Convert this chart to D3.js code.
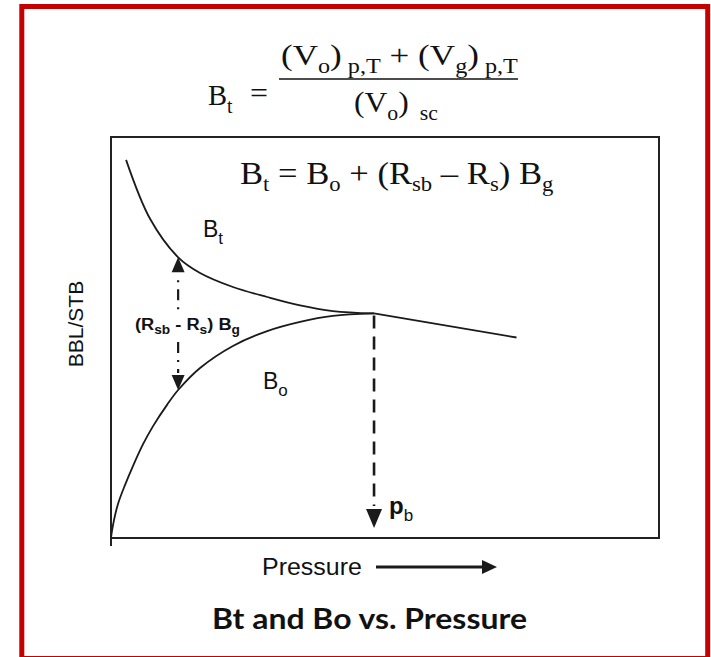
<!DOCTYPE html>
<html>
<head>
<meta charset="utf-8">
<script src="https://cdnjs.cloudflare.com/ajax/libs/d3/7.8.5/d3.min.js"></script>
<style>
  html, body { margin: 0; padding: 0; background: #fff; }
  svg { display: block; }
  tspan { white-space: pre; }
</style>
</head>
<body>
<svg id="chart" width="711" height="657"></svg>
<script>
// Oil formation volume factor (Bo) below the bubble point, BBL/STB
const pressureBo = [0, 7, 22, 51, 102, 161, 234, 307, 409, 490, 650, 890, 1140, 1380, 1620, 1920];
const bo = [1.000, 1.017, 1.045, 1.085, 1.132, 1.180, 1.234, 1.279, 1.332, 1.369, 1.424, 1.479, 1.516, 1.539, 1.554, 1.560];

// Total (two-phase) formation volume factor (Bt) below the bubble point
const pressureBt = [110, 285, 490, 650, 890, 1140, 1380, 1620, 1920];
const bt = [1.943, 1.796, 1.700, 1.661, 1.626, 1.601, 1.580, 1.566, 1.560];

// Above the bubble point Bt = Bo (single phase, liquid compression)
const pressureAbove = [1920, 2960];
const boAbove = [1.560, 1.500];

const bubblePoint = 1920;   // pb
const gapPressure = 490;    // where (Rsb - Rs) Bg is marked

const svg = d3.select("#chart");

const x = d3.scaleLinear().domain([0, 4000]).range([111, 659]);
const y = d3.scaleLinear().domain([1.0, 2.0]).range([538, 137]);

const ink = "#1a1a1a";
const serif = "'Liberation Serif', 'Times New Roman', serif";
const sans = "'Liberation Sans', Arial, sans-serif";

// stretch a text element horizontally so it spans [x0, x1]
function fitX(sel, x0, x1) {
  const bb = sel.node().getBBox();
  const s = (x1 - x0) / bb.width;
  sel.attr("transform", `translate(${x0},0) scale(${s},1) translate(${-bb.x},0)`);
}

// text made of normal runs and subscript runs
function richText(parent, xPos, yPos, parts, opts) {
  const t = parent.append("text")
    .attr("x", xPos).attr("y", yPos)
    .attr("font-family", opts.family).attr("font-size", opts.size)
    .attr("font-weight", opts.weight || "normal")
    .attr("fill", "#111");
  let shift = 0;
  parts.forEach(p => {
    const target = p.sub ? opts.subDy : 0;
    const ts = t.append("tspan")
      .attr("dy", target - shift)
      .attr("font-size", p.sub ? opts.subSize : opts.size)
      .text(p.t);
    if (p.sub && opts.subWeight) ts.attr("font-weight", opts.subWeight);
    shift = target;
  });
  return t;
}

// outer red frame
svg.append("rect")
  .attr("x", 21.8).attr("y", 6.5)
  .attr("width", 707.7 - 21.8).attr("height", 658.5 - 6.5)
  .attr("fill", "none").attr("stroke", "#c40000").attr("stroke-width", 5);

// ---- formula above the chart: Bt = [(Vo)p,T + (Vg)p,T] / (Vo)sc
const eq = svg.append("g");
const eqOpts = {family: serif, size: 29, subSize: 20, subDy: 8};
fitX(richText(eq, 0, 105, [{t: "B"}, {t: "t", sub: true}], eqOpts), 208, 233);
fitX(richText(eq, 0, 103, [{t: "="}], eqOpts), 250, 268);
fitX(richText(eq, 0, 65, [
  {t: "(V"}, {t: "o", sub: true}, {t: ")"}, {t: " p,T", sub: true},
  {t: " + (V"}, {t: "g", sub: true}, {t: ")"}, {t: " p,T", sub: true}
], eqOpts), 281, 518);
eq.append("line")
  .attr("x1", 279).attr("x2", 518).attr("y1", 79).attr("y2", 79)
  .attr("stroke", "#111").attr("stroke-width", 1.5);
fitX(richText(eq, 0, 112, [
  {t: "(V"}, {t: "o", sub: true}, {t: ")"}, {t: "  sc", sub: true}
], eqOpts), 354, 438);

// ---- plot frame
svg.append("rect")
  .attr("x", x(0)).attr("y", y(2.0))
  .attr("width", x(4000) - x(0)).attr("height", y(1.0) - y(2.0))
  .attr("fill", "none").attr("stroke", "#222").attr("stroke-width", 2);
svg.append("line")
  .attr("x1", x(0)).attr("x2", x(0)).attr("y1", y(1.0)).attr("y2", y(1.0) + 8)
  .attr("stroke", "#222").attr("stroke-width", 2);

// relationship inside the chart
fitX(richText(svg.append("g"), 0, 184, [
  {t: "B"}, {t: "t", sub: true}, {t: " = B"}, {t: "o", sub: true},
  {t: " + (R"}, {t: "sb", sub: true}, {t: " \u2013 R"}, {t: "s", sub: true},
  {t: ") B"}, {t: "g", sub: true}
], {family: serif, size: 32, subSize: 21, subDy: 7}), 240, 554);

// ---- curves
const smooth = d3.line()
  .x(d => x(d[0])).y(d => y(d[1]))
  .curve(d3.curveCatmullRom.alpha(0.5));
const straight = d3.line().x(d => x(d[0])).y(d => y(d[1]));

const boPts = pressureBo.map((p, i) => [p, bo[i]]);
const btPts = pressureBt.map((p, i) => [p, bt[i]]);
const abovePts = pressureAbove.map((p, i) => [p, boAbove[i]]);

[smooth(boPts), smooth(btPts), straight(abovePts)].forEach(d => {
  svg.append("path").attr("d", d)
    .attr("fill", "none").attr("stroke", ink).attr("stroke-width", 1.8)
    .attr("stroke-linejoin", "round");
});

// ---- (Rsb - Rs) Bg double arrow between the curves
const ax = x(gapPressure);
const yTop = y(bt[pressureBt.indexOf(gapPressure)]);
const yBot = y(bo[pressureBo.indexOf(gapPressure)]);
const head = 15, halfW = 6.5;
svg.append("path")
  .attr("d", `M${ax},${yTop} L${ax - halfW},${yTop + head} L${ax + halfW},${yTop + head} Z`)
  .attr("fill", ink);
svg.append("path")
  .attr("d", `M${ax},${yBot} L${ax - halfW},${yBot - head} L${ax + halfW},${yBot - head} Z`)
  .attr("fill", ink);
svg.append("line")
  .attr("x1", ax).attr("x2", ax).attr("y1", yTop + head + 8).attr("y2", 310)
  .attr("stroke", ink).attr("stroke-width", 2.2).attr("stroke-dasharray", "2,7,11,7");
svg.append("line")
  .attr("x1", ax).attr("x2", ax).attr("y1", 342).attr("y2", yBot - head - 2)
  .attr("stroke", ink).attr("stroke-width", 2.2).attr("stroke-dasharray", "11,7,2,7");

fitX(richText(svg, 0, 330, [
  {t: "(R"}, {t: "sb", sub: true}, {t: " - R"}, {t: "s", sub: true}, {t: ") B"}, {t: "g", sub: true}
], {family: sans, size: 16, subSize: 12, subDy: 4, weight: "bold"}), 135, 240);

// ---- curve labels
const lblOpts = {family: sans, size: 23, subSize: 17, subDy: 7};
richText(svg, 203, 237, [{t: "B"}, {t: "t", sub: true}], lblOpts);
richText(svg, 263, 389, [{t: "B"}, {t: "o", sub: true}], lblOpts);

// ---- bubble point marker
const bx = x(bubblePoint);
svg.append("line")
  .attr("x1", bx).attr("x2", bx).attr("y1", y(boAbove[0]) + 2).attr("y2", 506)
  .attr("stroke", ink).attr("stroke-width", 2.6).attr("stroke-dasharray", "13,8");
svg.append("path")
  .attr("d", `M${bx},528 L${bx - 8},509 L${bx + 8},509 Z`)
  .attr("fill", ink);
richText(svg, 389, 514, [{t: "p"}, {t: "b", sub: true}],
  {family: sans, size: 24, subSize: 17, subDy: 7, weight: "bold", subWeight: "normal"});

// ---- axis titles
svg.append("text")
  .attr("transform", "translate(83,324) rotate(-90)")
  .attr("text-anchor", "middle")
  .attr("font-family", sans).attr("font-size", 21).attr("fill", "#111")
  .text("BBL/STB");

fitX(svg.append("text")
  .attr("x", 0).attr("y", 575)
  .attr("font-family", sans).attr("font-size", 24).attr("fill", "#111")
  .text("Pressure"), 262, 362);
svg.append("line")
  .attr("x1", 376).attr("x2", 484).attr("y1", 567).attr("y2", 567)
  .attr("stroke", ink).attr("stroke-width", 3);
svg.append("path")
  .attr("d", "M497,567 L482,560 L482,574 Z").attr("fill", ink);

// ---- chart title
fitX(svg.append("text")
  .attr("x", 0).attr("y", 629)
  .attr("font-family", "Lato, 'DejaVu Sans', sans-serif").attr("font-weight", "bold")
  .attr("font-size", 29).attr("fill", "#111")
  .text("Bt and Bo vs. Pressure"), 212, 527);
</script>
</body>
</html>
